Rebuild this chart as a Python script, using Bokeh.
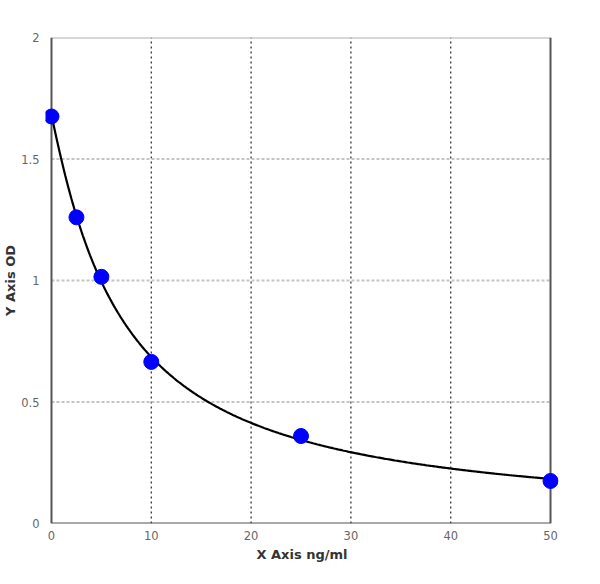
import numpy as np
from bokeh.plotting import figure
from bokeh.models import FixedTicker, Range1d
from bokeh.embed import file_html
from bokeh.resources import INLINE

# ---- data ----
x_conc = [0, 2.5, 5, 10, 25, 50]
od = [1.675, 1.26, 1.015, 0.665, 0.36, 0.175]

x_ticks = [0, 10, 20, 30, 40, 50]
x_tick_labels = ["0", "10", "20", "30", "40", "50"]
y_ticks = [0, 0.5, 1, 1.5, 2]
y_tick_labels = ["0", "0.5", "1", "1.5", "2"]

x_title = "X Axis ng/ml"
y_title = "Y Axis OD"

# ---- 4-parameter logistic fit of the points (grid search on b, c; linear in a, d) ----
xa = np.array(x_conc, dtype=float)
ya = np.array(od, dtype=float)
best = None
for b in np.linspace(0.4, 3.0, 131):
    for c in np.logspace(-0.5, 3, 351):
        g = 1.0 / (1.0 + (xa / c) ** b)
        A = np.column_stack([g, 1 - g])
        coef, *_ = np.linalg.lstsq(A, ya, rcond=None)
        sse = float(np.sum((A @ coef - ya) ** 2))
        if best is None or sse < best[0]:
            best = (sse, b, c, coef[0], coef[1])
_, fb, fc, fa, fd = best
xs = np.linspace(min(x_ticks), max(x_ticks), 400)
ys = fd + (fa - fd) / (1.0 + (xs / fc) ** fb)

# ---- figure ----
xmin, xmax = min(x_ticks), max(x_ticks)
ymin, ymax = min(y_ticks), max(y_ticks)
pad_l, pad_r = 0.6, 0.8

p = figure(output_backend="svg", toolbar_location=None,
           x_range=Range1d(xmin - pad_l, xmax + pad_r), y_range=Range1d(ymin, ymax),
           min_border_left=34, min_border_right=25, min_border_top=37, min_border_bottom=44,
           background_fill_color="white", border_fill_color="white")
p.frame_width = 499 + 14
p.frame_height = 486
p.outline_line_color = None
p.xgrid.visible = False
p.ygrid.visible = False

# grid lines
inner_x = x_ticks[1:-1]
inner_y = y_ticks[1:-1]
p.segment(x0=inner_x, y0=[ymin] * len(inner_x), x1=inner_x, y1=[ymax] * len(inner_x),
          line_color="#333333", line_width=1.3, line_dash="2 3")
p.segment(x0=[xmin] * len(inner_y), y0=inner_y, x1=[xmax] * len(inner_y), y1=inner_y,
          line_color="#c4c4c4", line_width=2, line_dash="3 2")

# border
p.segment(x0=[xmin], y0=[ymax], x1=[xmax], y1=[ymax], line_color="#b0b0b0", line_width=2)
p.segment(x0=[xmax], y0=[ymin], x1=[xmax], y1=[ymax], line_color="#555555", line_width=2)
p.segment(x0=[xmin], y0=[ymin], x1=[xmax], y1=[ymin], line_color="#555555", line_width=2)
p.segment(x0=[xmin], y0=[ymin], x1=[xmin], y1=[ymax], line_color="#555555", line_width=2)

# fitted curve and points
p.line(xs, ys, line_color="black", line_width=2.2)
p.scatter(x_conc, od, size=15, fill_color="#0000ff", line_color="#0000ff")

# axes
for ax in (p.xaxis[0], p.yaxis[0]):
    ax.axis_line_color = None
    ax.major_tick_line_color = None
    ax.minor_tick_line_color = None
    ax.major_label_text_font = "DejaVu Sans"
    ax.major_label_text_font_size = "11.5px"
    ax.major_label_text_color = "#666666"
    ax.axis_label_text_font = "DejaVu Sans"
    ax.axis_label_text_font_size = "13px"
    ax.axis_label_text_font_style = "bold"
    ax.axis_label_text_color = "#333333"

p.xaxis.ticker = FixedTicker(ticks=x_ticks)
p.xaxis.major_label_overrides = {t: s for t, s in zip(x_ticks, x_tick_labels)}
p.xaxis.major_label_standoff = 1
p.xaxis.axis_label = x_title
p.xaxis.axis_label_standoff = 4

p.yaxis.ticker = FixedTicker(ticks=y_ticks)
p.yaxis.major_label_overrides = {t: s for t, s in zip(y_ticks, y_tick_labels)}
p.yaxis.major_label_standoff = 0
p.yaxis.axis_label = y_title
p.yaxis.axis_label_standoff = 0

open("out.html", "w").write(file_html(p, INLINE))
